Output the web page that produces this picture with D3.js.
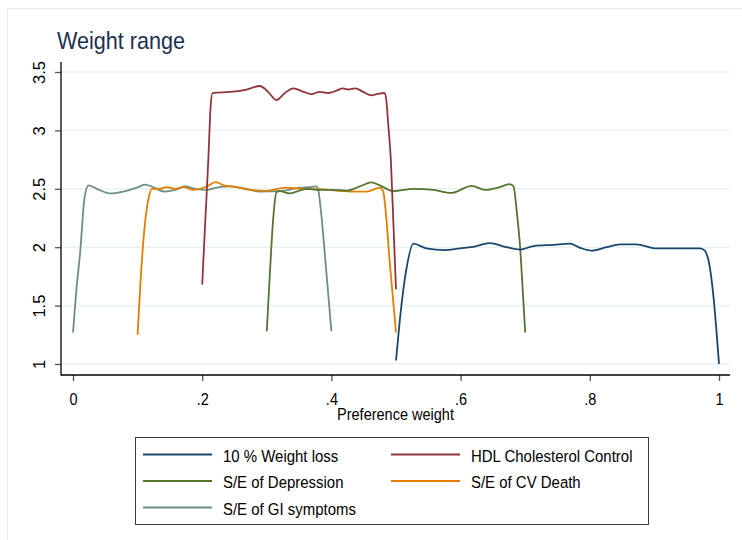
<!DOCTYPE html>
<html>
<head>
<meta charset="utf-8">
<script src="https://cdn.jsdelivr.net/npm/d3@7"></script>
<style>
  html, body { margin: 0; padding: 0; background: #ffffff; }
  svg { display: block; font-family: "Liberation Sans", Arial, Helvetica, sans-serif; }
</style>
</head>
<body>
<svg id="chart" width="742" height="540"></svg>
<script>
// Preference weight ranges per attribute (x = preference weight, y = curve height)
const weightLossX = [0.500, 0.506, 0.516, 0.527, 0.547, 0.576, 0.599, 0.617, 0.645, 0.671, 0.692, 0.713, 0.744, 0.769, 0.785, 0.803, 0.826, 0.847, 0.872, 0.903, 0.929, 0.971, 0.978, 0.986, 0.991, 1.000];
const weightLossY = [1.03, 1.38, 1.81, 2.03, 1.99, 1.975, 1.99, 2.00, 2.035, 2.00, 1.98, 2.01, 2.02, 2.03, 1.995, 1.97, 2.00, 2.025, 2.025, 1.99, 1.99, 1.99, 1.97, 1.82, 1.60, 1.00];

const hdlX = [0.200, 0.205, 0.2095, 0.213, 0.216, 0.243, 0.269, 0.289, 0.302, 0.315, 0.328, 0.341, 0.357, 0.369, 0.382, 0.395, 0.408, 0.418, 0.426, 0.437, 0.449, 0.462, 0.470, 0.482, 0.485, 0.488, 0.492, 0.496, 0.500];
const hdlY = [1.68, 2.25, 2.75, 3.20, 3.32, 3.33, 3.35, 3.38, 3.33, 3.26, 3.32, 3.36, 3.33, 3.31, 3.33, 3.32, 3.34, 3.36, 3.35, 3.36, 3.33, 3.30, 3.31, 3.32, 3.26, 3.05, 2.75, 2.20, 1.64];

const depressionX = [0.300, 0.305, 0.310, 0.315, 0.320, 0.336, 0.346, 0.362, 0.380, 0.398, 0.424, 0.444, 0.462, 0.475, 0.496, 0.527, 0.558, 0.586, 0.617, 0.638, 0.658, 0.676, 0.682, 0.687, 0.692, 0.696, 0.700];
const depressionY = [1.28, 1.80, 2.25, 2.47, 2.48, 2.46, 2.475, 2.50, 2.49, 2.49, 2.485, 2.52, 2.555, 2.53, 2.48, 2.50, 2.49, 2.465, 2.525, 2.49, 2.51, 2.54, 2.52, 2.30, 2.01, 1.65, 1.27];

const cvDeathX = [0.100, 0.105, 0.111, 0.117, 0.122, 0.135, 0.145, 0.158, 0.171, 0.186, 0.207, 0.221, 0.233, 0.253, 0.274, 0.299, 0.330, 0.357, 0.382, 0.408, 0.434, 0.455, 0.475, 0.480, 0.485, 0.490, 0.495, 0.500];
const cvDeathY = [1.25, 1.75, 2.18, 2.42, 2.50, 2.50, 2.515, 2.50, 2.515, 2.49, 2.52, 2.557, 2.53, 2.515, 2.49, 2.483, 2.51, 2.497, 2.497, 2.485, 2.476, 2.476, 2.51, 2.48, 2.25, 1.89, 1.58, 1.27];

const giX = [0.000, 0.005, 0.011, 0.018, 0.024, 0.037, 0.057, 0.078, 0.099, 0.111, 0.124, 0.142, 0.158, 0.173, 0.191, 0.207, 0.222, 0.243, 0.259, 0.289, 0.320, 0.346, 0.366, 0.377, 0.380, 0.384, 0.392, 0.400];
const giY = [1.27, 1.62, 1.95, 2.43, 2.53, 2.50, 2.46, 2.476, 2.51, 2.535, 2.515, 2.476, 2.49, 2.52, 2.497, 2.49, 2.51, 2.52, 2.51, 2.476, 2.48, 2.505, 2.515, 2.52, 2.48, 2.30, 1.80, 1.28];

const seriesNames = ["10 % Weight loss", "HDL Cholesterol Control", "S/E of Depression", "S/E of CV Death", "S/E of GI symptoms"];
const seriesColors = ["#1a476f", "#90353b", "#55752f", "#e37e00", "#6e8e84"];

const xTicks = [0, 0.2, 0.4, 0.6, 0.8, 1];
const xTickLabels = ["0", ".2", ".4", ".6", ".8", "1"];
const yTicks = [1, 1.5, 2, 2.5, 3, 3.5];
const yTickLabels = ["1", "1.5", "2", "2.5", "3", "3.5"];

const chartTitle = "Weight range";
const xAxisTitle = "Preference weight";

// ---- layout ----
const svg = d3.select("#chart");
const plot = { left: 61, right: 730, top: 62, bottom: 375 };
const textSquash = 0.88;

const x = d3.scaleLinear().domain([0, 1]).range([73, 719]);
const y = d3.scaleLinear().domain([1, 3.5]).range([364, 72]);

// outer frame
svg.append("rect")
  .attr("x", 7.5).attr("y", 8.5).attr("width", 760).attr("height", 560)
  .attr("fill", "#ffffff").attr("stroke", "#e4ebee").attr("stroke-width", 1.2);

// title
svg.append("text")
  .attr("transform", `translate(57,49) scale(0.9,1)`)
  .attr("font-size", 24).attr("fill", "#1e2f52")
  .text(chartTitle);

// gridlines
svg.append("g").selectAll("line").data(yTicks).join("line")
  .attr("x1", plot.left + 1).attr("x2", plot.right)
  .attr("y1", d => y(d)).attr("y2", d => y(d))
  .attr("stroke", "#eaf2f3").attr("stroke-width", 1.5);

// y axis
const yAxis = svg.append("g").attr("transform", `translate(${plot.left},0)`)
  .call(d3.axisLeft(y).tickValues(yTicks).tickFormat((d, i) => yTickLabels[i]).tickSizeInner(6).tickSizeOuter(0));
yAxis.select(".domain").remove();
yAxis.selectAll(".tick line").attr("stroke", "#555").attr("stroke-width", 1.3);
yAxis.selectAll(".tick text")
  .attr("x", 0).attr("y", -16).attr("dy", 0)
  .attr("transform", "rotate(-90)")
  .attr("text-anchor", "middle")
  .attr("font-size", 16.5).attr("fill", "#000")
  .attr("font-family", "Liberation Sans, Arial, sans-serif");
svg.append("line")
  .attr("x1", plot.left).attr("x2", plot.left)
  .attr("y1", plot.top).attr("y2", plot.bottom + 0.5)
  .attr("stroke", "#000").attr("stroke-width", 1.3);

// x axis
const xAxis = svg.append("g").attr("transform", `translate(0,${plot.bottom})`)
  .call(d3.axisBottom(x).tickValues(xTicks).tickFormat((d, i) => xTickLabels[i]).tickSizeInner(6).tickSizeOuter(0));
xAxis.select(".domain").remove();
xAxis.selectAll(".tick line").attr("stroke", "#555").attr("stroke-width", 1.3);
xAxis.selectAll(".tick text")
  .attr("y", 30).attr("dy", 0)
  .attr("transform", `scale(${textSquash},1)`)
  .attr("font-size", 16.5).attr("fill", "#000")
  .attr("font-family", "Liberation Sans, Arial, sans-serif");
svg.append("line")
  .attr("x1", plot.left).attr("x2", plot.right)
  .attr("y1", plot.bottom).attr("y2", plot.bottom)
  .attr("stroke", "#000").attr("stroke-width", 1.3);

svg.append("text")
  .attr("transform", `translate(${(plot.left + plot.right) / 2},420) scale(${textSquash},1)`)
  .attr("text-anchor", "middle").attr("font-size", 16.5).attr("fill", "#000")
  .text(xAxisTitle);

// curves
const series = [
  { xs: weightLossX, ys: weightLossY },
  { xs: hdlX, ys: hdlY },
  { xs: depressionX, ys: depressionY },
  { xs: cvDeathX, ys: cvDeathY },
  { xs: giX, ys: giY }
];
const line = d3.line().x(d => x(d[0])).y(d => y(d[1])).curve(d3.curveMonotoneX);

// draw in reverse order so the first series sits on top
const drawOrder = [4, 3, 2, 1, 0];
svg.append("g").selectAll("path").data(drawOrder).join("path")
  .attr("d", i => line(d3.zip(series[i].xs, series[i].ys)))
  .attr("fill", "none")
  .attr("stroke", i => seriesColors[i])
  .attr("stroke-width", 1.8)
  .attr("stroke-linejoin", "round");

// legend
const legend = svg.append("g");
legend.append("rect")
  .attr("x", 135.5).attr("y", 437.5).attr("width", 513).attr("height", 87)
  .attr("fill", "#ffffff").attr("stroke", "#3a3a3a").attr("stroke-width", 1);
const legendCols = [143, 391];
const legendRows = [454.5, 481, 507.5];
seriesNames.forEach((name, i) => {
  const cx = legendCols[i % 2];
  const cy = legendRows[Math.floor(i / 2)];
  legend.append("line")
    .attr("x1", cx).attr("x2", cx + 69)
    .attr("y1", cy).attr("y2", cy)
    .attr("stroke", seriesColors[i]).attr("stroke-width", 1.8);
  legend.append("text")
    .attr("transform", `translate(${cx + 80},${cy + 7}) scale(${textSquash},1)`)
    .attr("font-size", 17).attr("fill", "#000")
    .text(name);
});
</script>
</body>
</html>
